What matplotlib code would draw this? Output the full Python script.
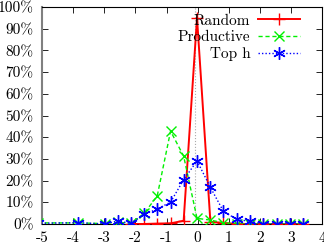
import matplotlib
matplotlib.use("Agg")
import matplotlib.pyplot as plt
import numpy as np

plt.rcParams['font.family'] = ['cmr10', 'DejaVu Serif']
plt.rcParams['axes.unicode_minus'] = False
plt.rcParams['mathtext.fontset'] = 'cm'

# bin centres (x) and percentages (y)
x_random = [-2.15, -1.72, -1.30, -0.87, -0.45, -0.02, 0.41, 0.83, 1.26, 1.69, 2.11, 2.54, 2.97, 3.39]
y_random = [0.0, 0.0, 0.2, 0.3, 1.5, 95.0, 1.0, 0.5, 0.0, 0.0, 0.0, 0.0, 0.0, 0.0]

x_prod = [-5.14, -3.86, -2.98, -2.57, -2.15, -1.72, -1.30, -0.87, -0.45, -0.02, 0.41, 0.83, 1.26, 1.69, 2.11, 2.54, 2.97, 3.39]
y_prod = [0.5, 0.5, 0.2, 0.8, 0.3, 4.9, 12.9, 42.8, 31.3, 2.6, 1.8, 0.6, 0.0, 0.0, 0.0, 0.0, 0.0, 0.0]

x_toph = [-5.14, -3.86, -2.98, -2.57, -2.15, -1.72, -1.30, -0.87, -0.45, -0.02, 0.41, 0.83, 1.26, 1.69, 2.11, 2.54, 2.97, 3.39]
y_toph = [0.3, 0.6, 0.0, 1.4, 0.3, 4.4, 6.9, 10.1, 20.4, 29.1, 16.9, 5.8, 2.1, 1.2, 0.0, 0.0, 0.0, 0.0]

xticks = [-5, -4, -3, -2, -1, 0, 1, 2, 3, 4]
yticks = [0, 10, 20, 30, 40, 50, 60, 70, 80, 90, 100]
xticklabels = ['-5', '-4', '-3', '-2', '-1', '0', '1', '2', '3', '4']
yticklabels = ['%d%%' % v for v in yticks]
vline_x = -0.08

fig = plt.figure(figsize=(3.24, 2.44), dpi=100)
ax = fig.add_axes([0.130, 0.082, 0.864, 0.889])

ax.axvline(vline_x, color='#aaaaaa', lw=0.8, ls=':', zorder=1)

ax.plot(x_random, y_random, color='#ff0000', lw=1.4, ls='-', marker='+',
        markersize=8, markeredgewidth=1.0, label='Random', clip_on=True, zorder=3)
ax.plot(x_prod, y_prod, color='#00f000', lw=1.0, ls=(0, (3, 2)), marker='x',
        markersize=7, markeredgewidth=1.0, label='Productive', clip_on=True, zorder=3)
ax.plot(x_toph, y_toph, color='#0000ff', lw=1.0, ls=(0, (1, 1.5)), marker=(6, 2, 0),
        markersize=9, markeredgewidth=1.0, label='Top h', clip_on=True, zorder=4)

ax.set_xlim(-5, 4)
ax.set_ylim(0, 100)
ax.set_xticks(xticks)
ax.set_xticklabels(xticklabels)
ax.set_yticks(yticks)
ax.set_yticklabels(yticklabels)
ax.tick_params(direction='in', length=4, width=0.6, labelsize=11,
               top=True, right=True)
ax.tick_params(axis='y', pad=6)
ax.tick_params(axis='x', pad=5)
for s in ['top', 'right', 'bottom']:
    ax.spines[s].set_color('black')
    ax.spines[s].set_linewidth(0.8)
ax.spines['left'].set_color('#808080')
ax.spines['left'].set_linewidth(1.5)

leg = ax.legend(loc='upper right', bbox_to_anchor=(0.921, 0.968), frameon=False,
                fontsize=11, markerfirst=False,
                handlelength=2.75, handletextpad=0.5, labelspacing=0.18,
                borderaxespad=0.0, borderpad=0.0)

fig.savefig('out.png', dpi=100)
